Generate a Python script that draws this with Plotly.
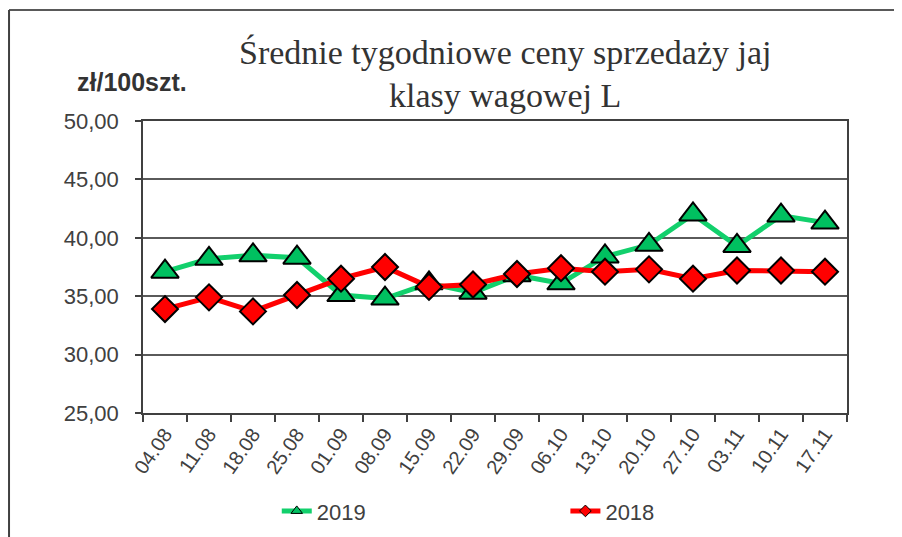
import plotly.graph_objects as go

weeks = ["04.08", "11.08", "18.08", "25.08", "01.09", "08.09", "15.09", "22.09",
         "29.09", "06.10", "13.10", "20.10", "27.10", "03.11", "10.11", "17.11"]
prices_2019 = [37.1, 38.2, 38.5, 38.3, 35.1, 34.8, 36.1, 35.3,
               36.8, 36.1, 38.4, 39.4, 42.0, 39.3, 41.9, 41.3]
prices_2018 = [33.9, 34.9, 33.7, 35.1, 36.5, 37.5, 35.8, 36.0,
               36.9, 37.4, 37.1, 37.3, 36.5, 37.2, 37.2, 37.1]
y_ticks = [25, 30, 35, 40, 45, 50]
title_lines = ["Średnie tygodniowe ceny sprzedaży jaj", "klasy wagowej L"]

GREEN_LINE = "#12D06C"
GREEN_FILL = "#00C060"
RED = "#FF0000"

fig = go.Figure()

fig.add_trace(go.Scatter(
    x=weeks, y=prices_2019, mode="lines+markers", name="2019", showlegend=False,
    line=dict(color=GREEN_LINE, width=5),
    marker=dict(symbol="triangle-up", size=24, color=GREEN_FILL,
                line=dict(color="#000000", width=2)),
))
fig.add_trace(go.Scatter(
    x=weeks, y=prices_2018, mode="lines+markers", name="2018", showlegend=False,
    line=dict(color=RED, width=5),
    marker=dict(symbol="diamond", size=20, color=RED,
                line=dict(color="#000000", width=2)),
))
# legend-only entries with small markers
fig.add_trace(go.Scatter(
    x=[None], y=[None], mode="lines+markers", name="2019", legend="legend",
    line=dict(color=GREEN_LINE, width=5),
    marker=dict(symbol="triangle-up", size=10, color=GREEN_FILL,
                line=dict(color="#000000", width=1)),
))
fig.add_trace(go.Scatter(
    x=[None], y=[None], mode="lines+markers", name="2018", legend="legend2",
    line=dict(color=RED, width=5),
    marker=dict(symbol="diamond", size=9, color=RED,
                line=dict(color="#000000", width=1)),
))

legend_common = dict(orientation="h", yanchor="middle", xanchor="left",
                     font=dict(size=22, color="#404040"), bgcolor="rgba(0,0,0,0)")

fig.update_layout(
    width=894, height=529,
    margin=dict(l=135, r=55, t=113, b=124, autoexpand=False),
    paper_bgcolor="white", plot_bgcolor="white",
    separators=", ",
    font=dict(family="Liberation Sans, Arial", color="#404040"),
    legend=dict(x=0.19, y=-0.336, **legend_common),
    legend2=dict(x=0.60, y=-0.336, **legend_common),
    xaxis=dict(
        type="category", tickangle=-55, tickfont=dict(size=20, color="#404040"),
        ticks="outside", ticklen=7, tickwidth=1.5, tickcolor="#404040",
        tickson="boundaries", showline=True, linecolor="#404040", linewidth=1.5,
        mirror=True, showgrid=False, range=[-0.5, 15.5],
    ),
    yaxis=dict(
        range=[25, 50], tickvals=y_ticks, tickformat=".2f",
        tickfont=dict(size=22, color="#404040"), ticklabelstandoff=12,
        ticks="outside", ticklen=6, tickwidth=1.5, tickcolor="#404040",
        showline=True, linecolor="#404040", linewidth=1.5, mirror=True,
        showgrid=True, gridcolor="#5a5a5a", gridwidth=1.5, zeroline=False,
    ),
    annotations=[
        dict(text=title_lines[0], xref="paper", yref="paper", x=0.514, y=1.236,
             xanchor="center", yanchor="middle", showarrow=False,
             font=dict(family="Liberation Serif, serif", size=34, color="#333333")),
        dict(text=title_lines[1], xref="paper", yref="paper", x=0.514, y=1.089,
             xanchor="center", yanchor="middle", showarrow=False,
             font=dict(family="Liberation Serif, serif", size=34, color="#333333")),
        dict(text="<b>zł/100szt.</b>", xref="paper", yref="paper", x=-0.0156, y=1.133,
             xanchor="center", yanchor="middle", showarrow=False,
             font=dict(size=25, color="#333333")),
    ],
    shapes=[
        dict(type="line", xref="paper", yref="paper", x0=-0.1903, x1=1.1, y0=1.38, y1=1.38,
             line=dict(color="#595959", width=2)),
        dict(type="line", xref="paper", yref="paper", x0=-0.1903, x1=-0.1903, y0=1.38, y1=-0.5,
             line=dict(color="#404040", width=2)),
    ],
)

fig.write_html("out.html")
